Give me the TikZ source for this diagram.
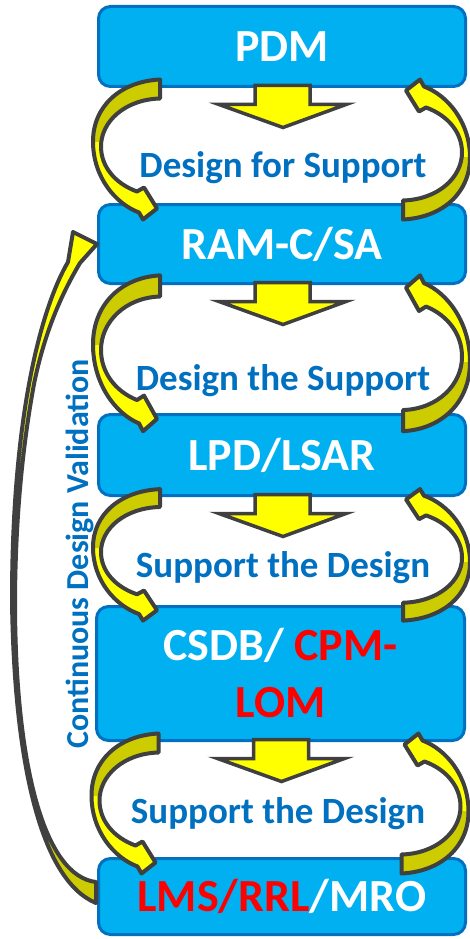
\documentclass[tikz,border=0pt]{standalone}
\usepackage{fontspec}
\setmainfont{Carlito}

\definecolor{boxfill}{HTML}{00B0F0}
\definecolor{boxline}{HTML}{0070C0}
\definecolor{labelblue}{HTML}{0070C0}
\definecolor{arrowline}{HTML}{404040}
\definecolor{arrowyellow}{HTML}{FFFF00}
\definecolor{arrowolive}{HTML}{CCCC00}
\definecolor{hotred}{HTML}{FF0000}

% outline of the curved loop arrow, local units (origin below the box centre)
\newcommand\loopshape{(-122,-10)
  .. controls (-162,-8) and (-189,17) .. (-189,52)
  .. controls (-189,87) and (-167,114) .. (-143,123)
  -- (-139,130) -- (-125,119) -- (-138,98) -- (-145,102)
  .. controls (-167,94) and (-181,77) .. (-181,57)
  .. controls (-181,32) and (-157,10) .. (-122,9) -- cycle}

% long return arrow on the left
\newcommand\returnshape{(96,882) -- (96,903)
  .. controls (40,880) and (14,760) .. (12,600)
  .. controls (12,510) and (19,437.5) .. (29.5,381.5)
  .. controls (40,325.5) and (54,286) .. (68,262)
  -- (73,232) -- (97,244) -- (80,263)
  .. controls (64,290) and (46,327) .. (34.5,381.5)
  .. controls (24,437) and (15.5,510) .. (15,600)
  .. controls (15,765) and (44,876) .. (96,882) -- cycle}

\tikzset{
  stage/.style={draw=boxline, fill=boxfill, line width=3pt, rounded corners=12pt,
    minimum width=367pt, text=white, align=center, inner sep=0pt,
    font=\bfseries\fontsize{46}{57}\selectfont},
  phase/.style={text=labelblue, anchor=base, inner sep=0pt,
    font=\bfseries\fontsize{37}{42}\selectfont},
  arrowedge/.style={draw=arrowline, line width=4pt, line join=round},
  pics/pushdown/.style={code={
    \filldraw[fill=arrowyellow, draw=arrowline, line width=3.5pt, line join=miter]
      (-27,-2.5) -- (28,-2.5) -- (28,16.5) -- (64,16.5) -- (1,39.5)
      -- (-63,16.5) -- (-27,16.5) -- cycle;
  }},
  pics/loopleft/.style={code={
    \begin{scope}[shift={(0,1.5)}, yscale=#1/115]
      \fill[arrowyellow] \loopshape;
      \begin{scope}
        \clip (-200,-20) rectangle (0,52);
        \fill[arrowolive] \loopshape;
      \end{scope}
      \draw[arrowedge] \loopshape;
    \end{scope}
  }},
  pics/loopright/.style={code={
    \begin{scope}[shift={(0,1.5)}, yscale=#1/115, rotate around={180:(-0.5,60)}]
      \fill[arrowyellow] \loopshape;
      \begin{scope}
        \clip (-200,-20) rectangle (0,52);
        \fill[arrowolive] \loopshape;
      \end{scope}
      \draw[arrowedge] \loopshape;
    \end{scope}
  }},
}

\begin{document}
\begin{tikzpicture}[x=1pt, y=-1pt]
  \useasboundingbox (0,0) rectangle (470,939);
  \fill[white] (0,0) rectangle (470,939);

  % stages
  \node[stage, minimum height=80pt]  (pdm)  at (282,46.5)  {PDM};
  \node[stage, minimum height=79pt]  (ramc) at (282,244)   {RAM-C/SA};
  \node[stage, minimum height=81pt]  (lpd)  at (282,455)   {LPD/LSAR};
  \node[stage, minimum height=134pt, minimum width=368pt] (csdb) at (280.5,673.5)
    {CSDB/ \textcolor{hotred}{CPM-}\\\textcolor{hotred}{LOM}};
  \node[stage, minimum height=76pt]  (lms)  at (282,896.5) {\textcolor{hotred}{LMS/RRL}/MRO};

  % phase labels
  \node[phase] (ph1) at (283,177) {Design for Support};
  \node[phase] (ph2) at (283,390) {Design the Support};
  \node[phase] (ph3) at (283,577) {Support the Design};
  \node[phase] (ph4) at (278,823) {Support the Design};

  % block arrows between stages
  \pic at (pdm.south)  {pushdown};
  \pic at (ramc.south) {pushdown};
  \pic at (lpd.south)  {pushdown};
  \pic at (csdb.south) {pushdown};

  % curved loop arrows
  \pic at (pdm.south)  {loopleft=115};
  \pic at (pdm.south)  {loopright=115};
  \pic at (ramc.south) {loopleft=128};
  \pic at (ramc.south) {loopright=128};
  \pic at (lpd.south)  {loopleft=108};
  \pic at (lpd.south)  {loopright=108};
  \pic at (csdb.south) {loopleft=115};
  \pic at (csdb.south) {loopright=115};

  % validation return arrow
  \fill[arrowyellow] \returnshape;
  \begin{scope}
    \clip (0,600) rectangle (100,939);
    \fill[arrowolive] \returnshape;
  \end{scope}
  \draw[arrowedge] \returnshape;

  \node[text=labelblue, rotate=90, anchor=base, inner sep=0pt,
    font=\bfseries\fontsize{32}{36}\selectfont] (cdv) at (88,554)
    {Continuous Design Validation};
\end{tikzpicture}
\end{document}
